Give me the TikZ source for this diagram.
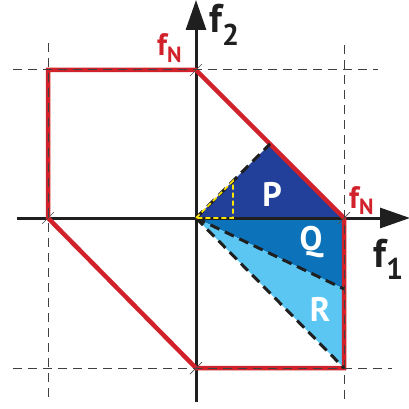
\documentclass[tikz,border=0pt]{standalone}
\usepackage{fontspec}
\setmainfont{PT Sans}
\usetikzlibrary{arrows.meta,calc}
\definecolor{cP}{HTML}{22409A}
\definecolor{cQ}{HTML}{0C72B9}
\definecolor{cR}{HTML}{5CC6F2}
\definecolor{cRed}{HTML}{D1222B}
\definecolor{cYel}{HTML}{FFE500}
\begin{document}
\begin{tikzpicture}[x=1pt,y=-1pt,
  axis/.style={line width=3pt,black!88,-{Triangle[length=30pt,width=20pt]}},
  border/.style={line width=4.5pt,cRed,line join=miter},
  grid/.style={line width=1pt,black!75,dash pattern=on 9pt off 6pt},
  region/.style={line width=3pt,black!88,dash pattern=on 10pt off 6pt},
  yel/.style={line width=1.6pt,cYel,dash pattern=on 5pt off 3pt},
  tick/.style={line width=0.7pt,black!70},
  lab/.style={font=\bfseries\fontsize{40}{40}\selectfont,text=black!88,inner sep=0pt},
  fnlab/.style={font=\bfseries\fontsize{31}{31}\selectfont,text=cRed,inner sep=0pt},
  reg/.style={font=\bfseries\fontsize{34}{34}\selectfont,text=white,inner sep=0pt}]
\useasboundingbox (0,0) rectangle (409,409);
\coordinate (O) at (196,218);
\coordinate (T) at (196,70);
\coordinate (TL) at (48,70);
\coordinate (L) at (48,218);
\coordinate (B) at (196,368);
\coordinate (BR) at (344,368);
\coordinate (RR) at (344,218);
\coordinate (Pp) at (270,144);
\coordinate (Qq) at (344,289);
\coordinate (Y1) at (233,181);
\coordinate (Y2) at (233,218);
\coordinate (xs) at (17,218);
\coordinate (xe) at (410,218);
\coordinate (ys) at (196,402);
\coordinate (ye) at (196,0);
% regions
\fill[cP] (O) -- (Pp) -- (RR) -- cycle;
\fill[cQ] (O) -- (RR) -- (Qq) -- cycle;
\fill[cR] (O) -- (Qq) -- (BR) -- cycle;
% axes
\draw[axis] (xs) -- (xe);
\draw[axis] (ys) -- (ye);
% feasible border
\draw[border] (TL) -- (T) -- (RR) -- (BR) -- (B) -- (L) -- cycle;
% grid lines
\draw[grid] (13,70) -- (378,70);
\draw[grid] (13,368) -- (392,368);
\draw[grid] (48,43) -- (48,402);
\draw[grid] (344,45) -- (344,404);
% region boundaries
\draw[region] (O) -- (Pp);
\draw[region] (O) -- (Qq);
\draw[region] (O) -- (BR);
% yellow triangle
\draw[yel] (O) -- (Y1) -- (Y2) -- cycle;
% ticks
\foreach \c in {T,L,RR,B} \draw[tick] ($(\c)+(-6,6)$) -- ($(\c)+(6,-6)$);
% labels
\node[lab,anchor=base west] (f2) at (209,33) {f\textsubscript{\fontsize{30}{30}\selectfont 2}};
\node[lab,anchor=base west] (f1) at (373,267) {f\textsubscript{\fontsize{30}{30}\selectfont 1}};
\node[fnlab,anchor=base west] (fN1) at (157,56) {f\textsubscript{\fontsize{22}{22}\selectfont N}};
\node[fnlab,anchor=base west] (fN2) at (349,208) {f\textsubscript{\fontsize{22}{22}\selectfont N}};
\node[reg] (P) at (272,194) {P};
\node[reg] (Q) at (311,242) {Q};
\node[reg] (R) at (320,309) {R};
\end{tikzpicture}
\end{document}
